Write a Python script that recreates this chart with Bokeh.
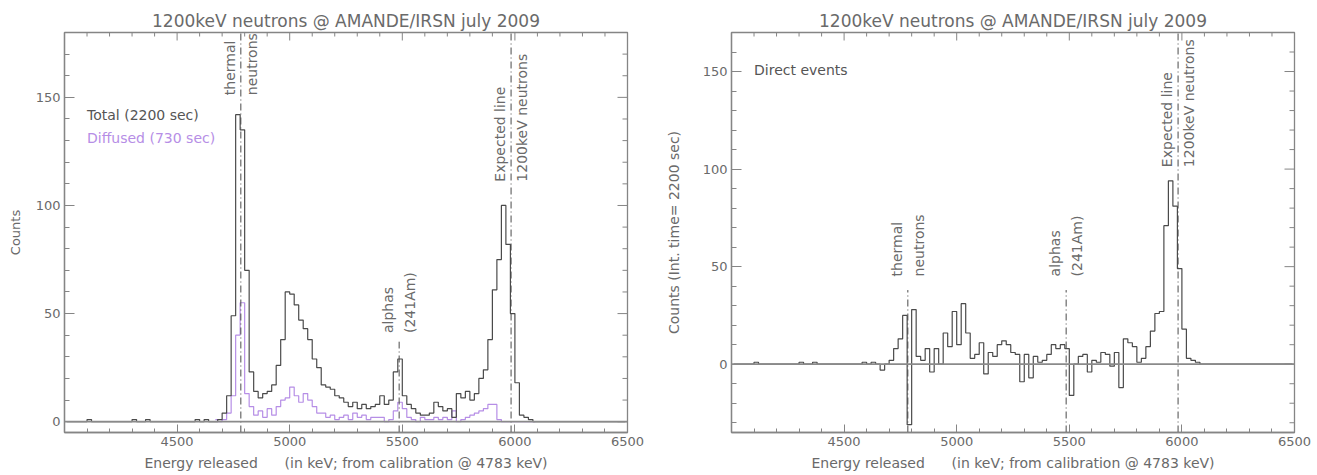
import numpy as np
from bokeh.plotting import figure
from bokeh.layouts import row
from bokeh.models import FixedTicker, Range1d, Span, Label
from bokeh.embed import file_html
from bokeh.resources import INLINE

# ---------------- data ----------------
BIN_WIDTH_KEV = 20
MAIN_FIRST_BIN_KEV = 4660          # low edge of first bin of the arrays below

blip_energy_keV = [4100, 4300, 4360, 4580, 4620]
blip_total_counts = [1, 1, 1, 1, 1]
blip_direct_counts = [1, 1, 1, 1, 1]

total_counts = [
    0, 1,
    4, 12, 49, 142, 135, 70, 23, 14, 11, 13,
    14, 17, 26, 38, 60, 59, 54, 47, 43, 38,
    29, 25, 17, 16, 15, 12, 11, 9, 7, 9,
    6, 8, 6, 7, 8, 12, 8, 10, 23, 29,
    12, 8, 6, 4, 3, 3, 4, 9, 7, 5,
    6, 2, 13, 11, 14, 10, 13, 20, 24, 38,
    61, 75, 100, 82, 50, 18, 3, 2, 1, 0]

diffused_counts = [
    1, 0,
    1, 4, 12, 40, 55, 13, 7, 3, 5, 2,
    6, 3, 7, 10, 11, 16, 12, 9, 13, 10,
    7, 4, 4, 2, 3, 1, 2, 3, 1, 4,
    2, 3, 1, 2, 2, 2, 0, 1, 5, 9,
    6, 2, 1, 0, 2, 1, 1, 2, 1, 2,
    1, 5, 0, 1, 2, 3, 4, 5, 6, 8,
    8, 1, 0, 0, 0, 0, 0, 0, 0, 0]

direct_counts = [
    -3, 0,
    2, 8, 13, 25, -31, 28, 4, 2, 8, -4,
    8, 0, 16, 9, 27, 10, 31, 16, 3, 5,
    11, -5, 6, 4, 10, 12, 10, 6, 5, -9,
    5, -7, 4, 1, 2, 5, 10, 8, 10, 8,
    -16, 0, 4, 5, -4, 2, 1, 6, 5, -1,
    6, -12, 13, 11, 9, 1, 3, 9, 17, 26,
    27, 71, 94, 81, 49, 18, 3, 2, 1, 0]

thermal_keV = 4783
alpha_keV = 5486
expected_keV = 5983

title_text = "1200keV neutrons @ AMANDE/IRSN july 2009"
x_label = "Energy released" + "\u00a0" * 6 + "(in keV; from calibration @ 4783 keV)"
x_major_ticks = [4500, 5000, 5500, 6000, 6500]
y_major_ticks = [0, 50, 100, 150]

X_MIN, X_MAX = 4000, 6500

# ---------------- style ----------------
FONT = "DejaVu Sans"
TXT = "#6a6a6a"
AX = "#858585"
HIST = "#4a4a4a"
PURPLE = "#b68ee6"
DASHDOT = "7 3 1 3"


def full_histogram(main, blips_e, blips_c):
    edges = np.arange(X_MIN, X_MAX + BIN_WIDTH_KEV, BIN_WIDTH_KEV)
    centers = edges[:-1] + BIN_WIDTH_KEV / 2
    counts = np.zeros(len(centers))
    for e, c in zip(blips_e, blips_c):
        counts[(e - X_MIN) // BIN_WIDTH_KEV] = c
    i0 = (MAIN_FIRST_BIN_KEV - X_MIN) // BIN_WIDTH_KEV
    counts[i0:i0 + len(main)] = main
    return centers, counts


def main_centers(main):
    return MAIN_FIRST_BIN_KEV + BIN_WIDTH_KEV / 2 + BIN_WIDTH_KEV * np.arange(len(main))


def style_axis(ax, ticker, tick_len):
    ax.ticker = ticker
    ax.axis_line_color = AX
    ax.axis_line_width = 1.3
    ax.major_tick_line_color = AX
    ax.minor_tick_line_color = AX
    ax.major_tick_in = tick_len
    ax.major_tick_out = 0
    ax.minor_tick_in = tick_len // 2
    ax.minor_tick_out = 0
    ax.major_label_text_font = FONT
    ax.major_label_text_font_size = "13px"
    ax.major_label_text_color = TXT
    ax.major_label_standoff = 4
    ax.axis_label_text_font = FONT
    ax.axis_label_text_font_style = "normal"
    ax.axis_label_text_color = TXT


def make_fig(width, bl, br, y0, y1, ylabel, ylab_size, ylab_standoff, y_minor):
    p = figure(width=width, height=475, x_range=Range1d(X_MIN, X_MAX),
               y_range=Range1d(y0, y1), output_backend="svg",
               toolbar_location=None, min_border_left=bl, min_border_right=br,
               min_border_top=32, min_border_bottom=43)
    p.xgrid.visible = False
    p.ygrid.visible = False
    p.outline_line_color = AX
    p.outline_line_width = 1.3
    p.background_fill_color = "white"
    p.border_fill_color = "white"

    p.title.text = title_text
    p.title.align = "center"
    p.title.text_font = FONT
    p.title.text_font_size = "17px"
    p.title.text_font_style = "normal"
    p.title.text_color = TXT
    p.title.standoff = 4

    x_minor = [e for e in range(4100, 6500, 100) if e % 500]

    style_axis(p.xaxis[0], FixedTicker(ticks=x_major_ticks, minor_ticks=x_minor), 8)
    p.xaxis[0].axis_label = x_label
    p.xaxis[0].axis_label_text_font_size = "14px"
    p.xaxis[0].axis_label_standoff = 6

    style_axis(p.yaxis[0], FixedTicker(ticks=y_major_ticks, minor_ticks=y_minor), 10)
    p.yaxis[0].axis_label = ylabel
    p.yaxis[0].axis_label_text_font_size = ylab_size
    p.yaxis[0].axis_label_standoff = ylab_standoff

    # mirrored ticks on the top and right edges of the box
    p.ray(x=x_major_ticks, y=y1, length=8, length_units="screen", angle=-np.pi / 2,
          line_color=AX, line_width=1)
    p.ray(x=x_minor, y=y1, length=4, length_units="screen", angle=-np.pi / 2,
          line_color=AX, line_width=1)
    p.ray(x=X_MAX, y=y_major_ticks, length=10, length_units="screen", angle=np.pi,
          line_color=AX, line_width=1)
    p.ray(x=X_MAX, y=y_minor, length=5, length_units="screen", angle=np.pi,
          line_color=AX, line_width=1)
    return p


def vlabels(p, x, y, left_text, right_text, dx):
    p.add_layout(Label(x=x - dx, y=y, text=left_text, angle=np.pi / 2,
                       text_align="left", text_baseline="bottom",
                       text_font=FONT, text_font_size="14px", text_color=TXT))
    p.add_layout(Label(x=x + dx, y=y, text=right_text, angle=np.pi / 2,
                       text_align="left", text_baseline="top",
                       text_font=FONT, text_font_size="14px", text_color=TXT))


# ---------------- left panel ----------------
p1 = make_fig(658, 64, 31, -5, 180, "Counts", "13px", 10,
              [v for v in range(10, 180, 10) if v % 50])

xc, tot = full_histogram(total_counts, blip_energy_keV, blip_total_counts)
p1.step(main_centers(diffused_counts), diffused_counts, mode="center",
        line_color=PURPLE, line_width=1.2)
p1.step(xc, tot, mode="center", line_color=HIST, line_width=1.2)
p1.add_layout(Span(location=0, dimension="width", line_color="#8a8a8a", line_width=1.8))

p1.segment(x0=[thermal_keV, expected_keV, alpha_keV], x1=[thermal_keV, expected_keV, alpha_keV],
           y0=[-5, -5, -5], y1=[180, 180, 37], line_color=HIST, line_width=1,
           line_dash=DASHDOT)
vlabels(p1, thermal_keV, 151, "thermal", "neutrons", 13)
vlabels(p1, expected_keV, 111, "Expected line", "1200keV neutrons", 13)
vlabels(p1, alpha_keV, 41, "alphas", "(241Am)", 13)

p1.add_layout(Label(x=4100, y=142, text="Total (2200 sec)", text_baseline="middle",
                    text_font=FONT, text_font_size="14px", text_color="#555555"))
p1.add_layout(Label(x=4100, y=131, text="Diffused (730 sec)", text_baseline="middle",
                    text_font=FONT, text_font_size="14px", text_color=PURPLE))

# ---------------- right panel ----------------
p2 = make_fig(659, 73, 23, -35, 170, "Counts (Int. time= 2200 sec)", "14px", 18,
              [v for v in range(-30, 170, 10) if v % 50])

xc2, dire = full_histogram(direct_counts, blip_energy_keV, blip_direct_counts)
p2.step(xc2, dire, mode="center", line_color=HIST, line_width=1.2)
p2.add_layout(Span(location=0, dimension="width", line_color="#8a8a8a", line_width=1.8))

p2.segment(x0=[thermal_keV, alpha_keV, expected_keV], x1=[thermal_keV, alpha_keV, expected_keV],
           y0=[-35, -35, -35], y1=[38, 38, 170], line_color=HIST, line_width=1,
           line_dash=DASHDOT)
vlabels(p2, thermal_keV, 45, "thermal", "neutrons", 13)
vlabels(p2, alpha_keV, 45, "alphas", "(241Am)", 13)
vlabels(p2, expected_keV, 101, "Expected line", "1200keV neutrons", 13)

p2.add_layout(Label(x=4100, y=151, text="Direct events", text_baseline="middle",
                    text_font=FONT, text_font_size="14px", text_color="#555555"))

layout = row(p1, p2)
open("out.html", "w").write(file_html(layout, INLINE))
